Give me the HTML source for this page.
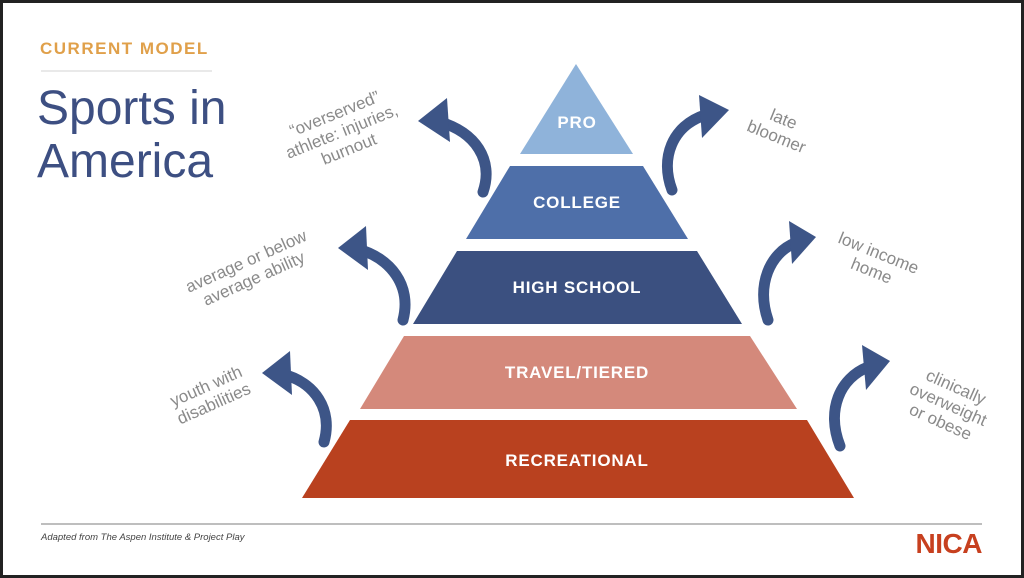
<!DOCTYPE html>
<html><head><meta charset="utf-8"><style>
html,body{margin:0;padding:0;background:#222;}
.f{position:relative;width:1018px;height:572px;left:3px;top:3px;background:#fff;overflow:hidden;}
svg{position:absolute;left:-3px;top:-3px;}
</style></head><body><div class="f">
<svg width="1024" height="578" viewBox="0 0 1024 578" font-family="Liberation Sans, sans-serif">
<text x="40" y="54" font-size="17" font-weight="bold" fill="#e0a04a" letter-spacing="1.5">CURRENT MODEL</text>
<line x1="41" y1="71" x2="212" y2="71" stroke="#e2e2e2" stroke-width="1.5"/>
<text x="37" y="124" font-size="48" fill="#3d4f82">Sports in</text>
<text x="37" y="177" font-size="48" fill="#3d4f82">America</text>

<polygon points="576,64 633,154 520,154" fill="#8fb3da"/>
<polygon points="510,166 643,166 688,239 466,239" fill="#4e6fa9"/>
<polygon points="457,251 697,251 742,324 413,324" fill="#3b5080"/>
<polygon points="404,336 750,336 797,409 360,409" fill="#d4897b"/>
<polygon points="350,420 807,420 854,498 302,498" fill="#b9411f"/>
<g fill="#fff" font-weight="bold" font-size="17" text-anchor="middle" letter-spacing="0.8">
<text x="577" y="128">PRO</text>
<text x="577" y="208">COLLEGE</text>
<text x="577" y="293">HIGH SCHOOL</text>
<text x="577" y="378">TRAVEL/TIERED</text>
<text x="577" y="466">RECREATIONAL</text>
</g>

<g fill="none" stroke="#3d5587" stroke-width="11" stroke-linecap="round">
<path d="M483,192 C494,160 475,132 440,122"/>
<path d="M403,320 C412,285 390,258 358,249"/>
<path d="M324,442 C333,410 315,382 282,374"/>
<path d="M672,190 C660,158 672,126 705,115"/>
<path d="M768,320 C756,285 770,253 795,243"/>
<path d="M840,446 C826,410 840,378 868,367"/>
</g>
<g fill="#3d5587">
<polygon points="418,121 447,98 450,142"/>
<polygon points="338,248 366,226 368,270"/>
<polygon points="262,373 290,351 292,395"/>
<polygon points="729,110 699,95 702,138"/>
<polygon points="816,237 789,221 792,264"/>
<polygon points="890,361 862,345 866,390"/>
</g>

<g fill="#8a8a8a" font-size="17" text-anchor="middle">
<g transform="translate(342,132) rotate(-22)"><text y="-14">“overserved”</text><text y="5">athlete: injuries,</text><text y="24">burnout</text></g>
<g transform="translate(250,270) rotate(-24)"><text y="-4">average or below</text><text y="15">average ability</text></g>
<g transform="translate(210,395) rotate(-24)"><text y="-4">youth with</text><text y="15">disabilities</text></g>
<g transform="translate(780,128) rotate(22)"><text y="-4">late</text><text y="15">bloomer</text></g>
<g transform="translate(875,262) rotate(22)"><text y="-4">low income</text><text y="15">home</text></g>
<g transform="translate(948,405) rotate(24)"><text y="-14">clinically</text><text y="5">overweight</text><text y="24">or obese</text></g>
</g>

<line x1="41" y1="524" x2="982" y2="524" stroke="#a8a8a8" stroke-width="1.5"/>
<text x="41" y="540" font-size="9.5" font-style="italic" fill="#444">Adapted from The Aspen Institute &amp; Project Play</text>
<text x="982" y="553" font-size="28" font-weight="bold" fill="#c7401f" text-anchor="end" letter-spacing="-0.5">NICA</text>
</svg></div></body></html>
